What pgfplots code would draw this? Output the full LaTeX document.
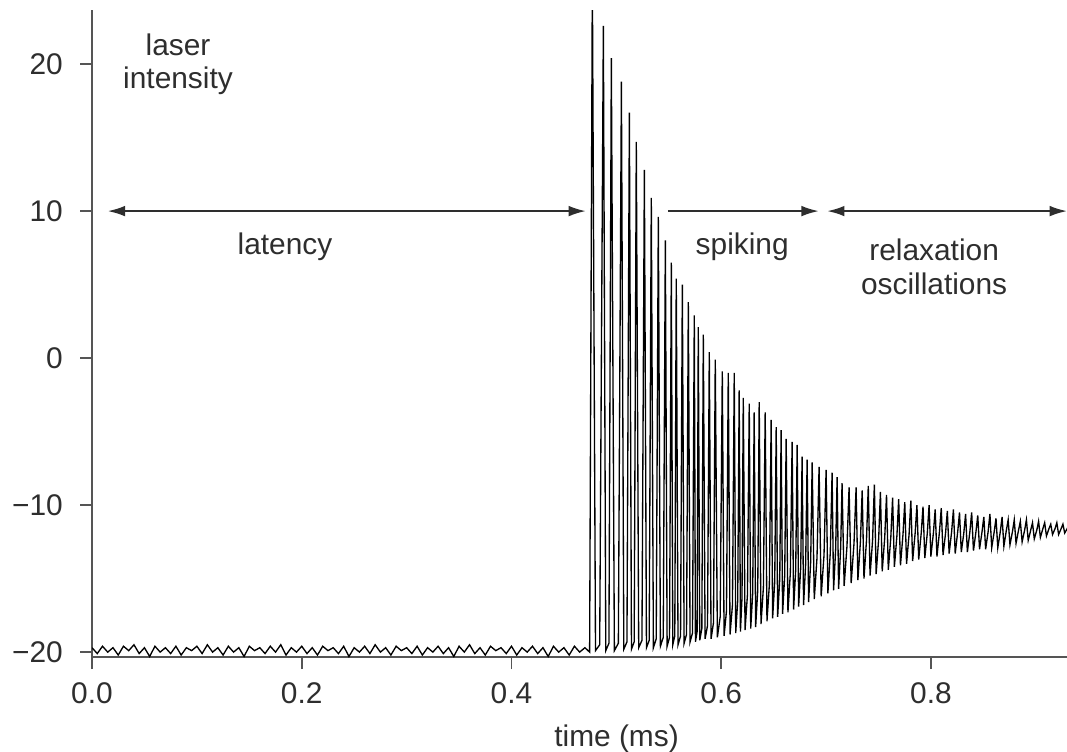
\documentclass[border=0pt]{standalone}
\usepackage{fontspec}
\setmainfont{Liberation Sans}
\usepackage{pgfplots}
\pgfplotsset{compat=1.18}
\usetikzlibrary{arrows.meta}
\definecolor{txt}{HTML}{2E2E2E}
\definecolor{axc}{HTML}{555555}
\begin{document}
\fontsize{11.2}{12.6}\selectfont
\begin{tikzpicture}
\useasboundingbox (-34.5pt,-35.25pt) rectangle (365.6pt,246.4pt);
\begin{axis}[
  at={(0,0)}, anchor=south west,
  scale only axis, width=365.6pt, height=242.6pt,
  xmin=0, xmax=0.9297, ymin=-20.34, ymax=23.67,
  axis x line*=bottom, axis y line*=left,
  axis line style={axc, line width=0.6pt},
  tick align=outside, major tick length=4.5pt,
  tick style={axc, line width=0.6pt},
  xtick={0,0.2,0.4,0.6,0.8}, xticklabels={0.0,0.2,0.4,0.6,0.8},
  ytick={-20,-10,0,10,20}, yticklabels={−20,−10,0,10,20},
  ticklabel style={font=\fontsize{11.2}{12}\selectfont, text=txt},
  yticklabel style={xshift=-2.5pt},
  xticklabel style={yshift=-1.2pt},
  xlabel={time (ms)},
  xlabel style={at={(ticklabel cs:0.538)}, anchor=north, font=\fontsize{11.2}{12}\selectfont, text=txt},
]
\addplot[black, line width=0.5pt] table {
x y
0.000 -19.7
0.005 -20.1
0.010 -19.6
0.015 -20.0
0.020 -19.7
0.025 -20.2
0.030 -19.6
0.035 -19.9
0.040 -19.5
0.045 -20.1
0.050 -19.7
0.055 -20.3
0.060 -19.6
0.065 -20.0
0.070 -19.7
0.075 -20.1
0.080 -19.6
0.085 -20.2
0.090 -19.7
0.095 -19.9
0.100 -19.6
0.105 -20.1
0.110 -19.5
0.115 -20.0
0.120 -19.7
0.125 -20.2
0.130 -19.6
0.135 -20.0
0.140 -19.7
0.145 -20.3
0.150 -19.6
0.155 -19.9
0.160 -19.7
0.165 -20.1
0.170 -19.6
0.175 -20.0
0.180 -19.5
0.185 -20.2
0.190 -19.7
0.195 -20.0
0.200 -19.6
0.205 -20.1
0.210 -19.7
0.215 -20.2
0.220 -19.6
0.225 -19.9
0.230 -19.7
0.235 -20.1
0.240 -19.6
0.245 -20.3
0.250 -19.7
0.255 -20.0
0.260 -19.6
0.265 -20.1
0.270 -19.5
0.275 -20.0
0.280 -19.7
0.285 -20.2
0.290 -19.6
0.295 -19.9
0.300 -19.7
0.305 -20.1
0.310 -19.6
0.315 -20.2
0.320 -19.7
0.325 -20.0
0.330 -19.6
0.335 -20.1
0.340 -19.7
0.345 -20.3
0.350 -19.6
0.355 -20.0
0.360 -19.5
0.365 -20.1
0.370 -19.7
0.375 -20.2
0.380 -19.6
0.385 -19.9
0.390 -19.7
0.395 -20.1
0.400 -19.6
0.405 -20.2
0.410 -19.7
0.415 -20.0
0.420 -19.6
0.425 -20.1
0.430 -19.7
0.435 -20.3
0.440 -19.6
0.445 -20.0
0.450 -19.7
0.455 -20.2
0.460 -19.6
0.465 -20.0
0.470 -19.7
0.4745 -20.0
0.4771 26.0
0.4801 -19.9
0.4841 -19.5
0.4876 22.6
0.4899 -19.9
0.4929 -19.4
0.4952 20.4
0.4981 -19.9
0.5019 -19.4
0.5048 18.8
0.5071 -19.8
0.5101 -19.3
0.5124 16.7
0.5144 -19.8
0.5170 -19.3
0.5190 14.7
0.5213 -19.7
0.5244 -19.2
0.5267 12.8
0.5287 -19.7
0.5313 -19.2
0.5333 10.9
0.5353 -19.7
0.5380 -19.1
0.5400 9.6
0.5420 -19.6
0.5447 -19.0
0.5467 8.0
0.5484 -19.6
0.5507 -19.0
0.5524 6.5
0.5538 -19.5
0.5557 -18.9
0.5571 5.4
0.5588 -19.5
0.5612 -18.9
0.5629 5.0
0.5646 -19.4
0.5669 -18.8
0.5686 3.8
0.5703 -19.3
0.5726 -18.7
0.5743 2.9
0.5754 -19.3
0.5770 -18.6
0.5781 2.1
0.5795 -19.2
0.5815 -18.4
0.5829 1.6
0.5846 -19.1
0.5869 -18.2
0.5886 0.4
0.5903 -19.1
0.5926 -18.0
0.5943 -0.1
0.5963 -19.0
0.5990 -17.6
0.6010 -0.9
0.6027 -18.9
0.6050 -17.2
0.6067 -1.0
0.6084 -18.8
0.6107 -16.8
0.6124 -1.0
0.6138 -18.7
0.6157 -16.5
0.6171 -2.2
0.6183 -18.6
0.6198 -16.3
0.6210 -2.7
0.6227 -18.5
0.6250 -16.1
0.6267 -3.1
0.6281 -18.4
0.6300 -16.0
0.6314 -3.7
0.6328 -18.3
0.6348 -15.8
0.6362 -3.0
0.6379 -18.1
0.6402 -15.6
0.6419 -3.7
0.6436 -17.9
0.6459 -15.4
0.6476 -4.2
0.6490 -17.7
0.6510 -15.2
0.6524 -4.7
0.6538 -17.6
0.6558 -15.0
0.6571 -4.9
0.6585 -17.4
0.6605 -14.8
0.6619 -5.5
0.6636 -17.3
0.6659 -14.6
0.6676 -5.7
0.6690 -17.1
0.6710 -14.4
0.6724 -5.9
0.6738 -16.9
0.6758 -14.2
0.6771 -6.7
0.6785 -16.8
0.6805 -14.0
0.6819 -6.9
0.6833 -16.6
0.6853 -13.8
0.6867 -7.1
0.6887 -16.4
0.6913 -13.6
0.6933 -7.4
0.6953 -16.2
0.6980 -13.4
0.7000 -7.6
0.7017 -16.0
0.7040 -13.2
0.7057 -7.8
0.7071 -15.8
0.7091 -13.0
0.7105 -8.1
0.7119 -15.7
0.7139 -12.9
0.7152 -8.5
0.7172 -15.5
0.7199 -12.8
0.7219 -8.8
0.7239 -15.3
0.7266 -12.6
0.7286 -8.8
0.7303 -15.1
0.7327 -12.5
0.7344 -9.0
0.7361 -15.0
0.7385 -12.4
0.7402 -8.7
0.7419 -14.8
0.7443 -12.4
0.7460 -8.6
0.7477 -14.7
0.7501 -12.3
0.7518 -9.1
0.7535 -14.5
0.7559 -12.2
0.7576 -9.3
0.7593 -14.4
0.7617 -12.2
0.7634 -9.5
0.7651 -14.2
0.7675 -12.1
0.7692 -9.6
0.7709 -14.1
0.7733 -12.0
0.7750 -9.8
0.7767 -14.0
0.7791 -12.0
0.7808 -9.7
0.7825 -13.8
0.7849 -11.9
0.7866 -10.0
0.7883 -13.7
0.7907 -11.9
0.7924 -10.1
0.7941 -13.6
0.7965 -11.9
0.7982 -10.0
0.7999 -13.5
0.8023 -11.9
0.8040 -10.3
0.8057 -13.5
0.8081 -11.8
0.8098 -10.2
0.8115 -13.4
0.8139 -11.9
0.8156 -10.4
0.8173 -13.3
0.8197 -11.8
0.8214 -10.3
0.8231 -13.3
0.8255 -11.8
0.8272 -10.5
0.8289 -13.2
0.8313 -11.9
0.8330 -10.6
0.8347 -13.2
0.8371 -11.8
0.8388 -10.5
0.8405 -13.1
0.8429 -11.8
0.8446 -10.7
0.8463 -13.0
0.8487 -11.8
0.8504 -10.8
0.8521 -13.0
0.8545 -11.8
0.8562 -10.6
0.8579 -12.9
0.8603 -11.8
0.8620 -10.9
0.8637 -12.9
0.8661 -11.8
0.8678 -10.8
0.8695 -12.8
0.8719 -11.7
0.8736 -11.0
0.8753 -12.7
0.8777 -11.8
0.8794 -11.0
0.8811 -12.6
0.8835 -11.7
0.8852 -11.1
0.8869 -12.5
0.8893 -11.7
0.8910 -11.0
0.8927 -12.4
0.8951 -11.7
0.8968 -11.2
0.8985 -12.3
0.9009 -11.7
0.9026 -11.1
0.9043 -12.2
0.9067 -11.6
0.9084 -11.2
0.9101 -12.1
0.9125 -11.6
0.9142 -11.3
0.9159 -12.0
0.9183 -11.6
0.9200 -11.2
0.9217 -12.0
0.9241 -11.6
0.9258 -11.3
0.9275 -11.9
0.9299 -11.6
0.9316 -11.3
};
\node[align=center, text=txt] at (axis cs:0.082,20.0) {laser\\intensity};
\draw[txt, line width=0.75pt, {Latex[length=6.5pt,width=4pt]}-{Latex[length=6.5pt,width=4pt]}] (axis cs:0.015,10) -- (axis cs:0.471,10);
\node[text=txt] at (axis cs:0.184,7.6) {latency};
\draw[txt, line width=0.75pt, -{Latex[length=6.5pt,width=4pt]}] (axis cs:0.549,10) -- (axis cs:0.693,10);
\node[text=txt] at (axis cs:0.62,7.6) {spiking};
\draw[txt, line width=0.75pt, {Latex[length=6.5pt,width=4pt]}-{Latex[length=6.5pt,width=4pt]}] (axis cs:0.701,10) -- (axis cs:0.9297,10);
\node[align=center, text=txt] at (axis cs:0.803,6.2) {relaxation\\oscillations};
\end{axis}
\end{tikzpicture}
\end{document}
